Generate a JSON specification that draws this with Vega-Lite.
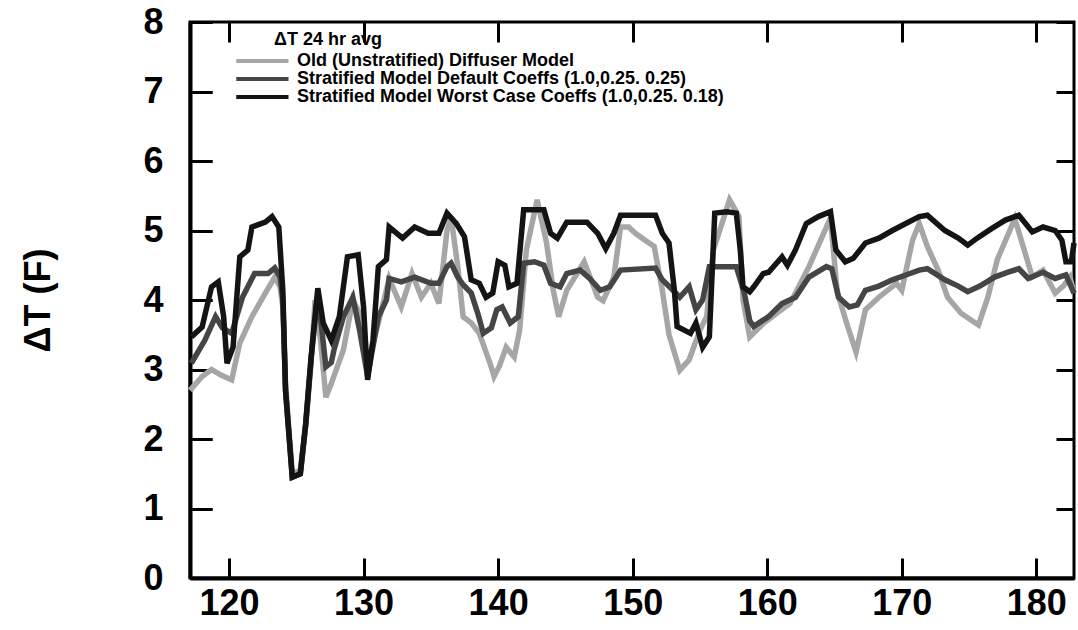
{
  "$schema": "https://vega.github.io/schema/vega-lite/v6.json",
  "autosize": {"type": "none"},
  "padding": {"left": 190, "top": 22, "right": 4, "bottom": 52},
  "width": 884,
  "height": 556,
  "background": "white",
  "config": {
    "view": {"stroke": "black", "strokeWidth": 3}
  },
  "data": {"values": [
    {"s":"O","x":117.1,"y":2.7},{"s":"O","x":118.0,"y":2.9},{"s":"O","x":118.7,"y":3.0},{"s":"O","x":119.4,"y":2.92},{"s":"O","x":120.2,"y":2.85},{"s":"O","x":120.8,"y":3.38},{"s":"O","x":121.7,"y":3.76},{"s":"O","x":122.7,"y":4.1},{"s":"O","x":123.4,"y":4.33},{"s":"O","x":123.8,"y":4.19},{"s":"O","x":124.0,"y":3.9},{"s":"O","x":124.2,"y":2.8},{"s":"O","x":124.7,"y":1.5},{"s":"O","x":125.3,"y":1.55},{"s":"O","x":125.7,"y":2.2},{"s":"O","x":126.1,"y":3.1},{"s":"O","x":126.4,"y":4.0},{"s":"O","x":126.8,"y":3.42},{"s":"O","x":127.2,"y":2.6},{"s":"O","x":127.6,"y":2.8},{"s":"O","x":128.5,"y":3.28},{"s":"O","x":129.2,"y":4.0},{"s":"O","x":129.6,"y":3.85},{"s":"O","x":130.3,"y":3.1},{"s":"O","x":131.1,"y":3.67},{"s":"O","x":131.9,"y":4.31},{"s":"O","x":132.8,"y":3.9},{"s":"O","x":133.6,"y":4.38},{"s":"O","x":134.3,"y":4.04},{"s":"O","x":135.0,"y":4.24},{"s":"O","x":135.6,"y":3.95},{"s":"O","x":136.2,"y":5.0},{"s":"O","x":136.5,"y":5.2},{"s":"O","x":137.0,"y":4.48},{"s":"O","x":137.4,"y":3.76},{"s":"O","x":138.0,"y":3.67},{"s":"O","x":138.6,"y":3.52},{"s":"O","x":139.4,"y":3.09},{"s":"O","x":139.7,"y":2.9},{"s":"O","x":140.1,"y":3.05},{"s":"O","x":140.6,"y":3.32},{"s":"O","x":141.2,"y":3.18},{"s":"O","x":141.6,"y":3.57},{"s":"O","x":142.1,"y":4.72},{"s":"O","x":142.9,"y":5.44},{"s":"O","x":143.6,"y":4.82},{"s":"O","x":144.1,"y":4.14},{"s":"O","x":144.5,"y":3.76},{"s":"O","x":145.1,"y":4.14},{"s":"O","x":146.4,"y":4.55},{"s":"O","x":147.4,"y":4.04},{"s":"O","x":147.8,"y":3.99},{"s":"O","x":148.6,"y":4.33},{"s":"O","x":149.1,"y":5.05},{"s":"O","x":149.7,"y":5.05},{"s":"O","x":150.2,"y":4.96},{"s":"O","x":151.0,"y":4.85},{"s":"O","x":151.6,"y":4.77},{"s":"O","x":152.2,"y":4.14},{"s":"O","x":152.7,"y":3.5},{"s":"O","x":153.5,"y":2.99},{"s":"O","x":154.2,"y":3.14},{"s":"O","x":155.0,"y":3.57},{"s":"O","x":155.5,"y":3.76},{"s":"O","x":156.0,"y":4.72},{"s":"O","x":157.2,"y":5.44},{"s":"O","x":157.9,"y":5.2},{"s":"O","x":158.2,"y":4.0},{"s":"O","x":158.7,"y":3.47},{"s":"O","x":159.7,"y":3.66},{"s":"O","x":160.7,"y":3.81},{"s":"O","x":161.7,"y":3.95},{"s":"O","x":162.1,"y":4.1},{"s":"O","x":163.1,"y":4.48},{"s":"O","x":164.4,"y":5.05},{"s":"O","x":164.7,"y":5.18},{"s":"O","x":165.2,"y":4.12},{"s":"O","x":165.9,"y":3.67},{"s":"O","x":166.6,"y":3.25},{"s":"O","x":167.3,"y":3.86},{"s":"O","x":168.3,"y":4.04},{"s":"O","x":169.6,"y":4.24},{"s":"O","x":170.0,"y":4.14},{"s":"O","x":170.8,"y":4.86},{"s":"O","x":171.3,"y":5.1},{"s":"O","x":171.9,"y":4.77},{"s":"O","x":172.7,"y":4.43},{"s":"O","x":173.4,"y":4.04},{"s":"O","x":174.4,"y":3.81},{"s":"O","x":175.7,"y":3.64},{"s":"O","x":176.4,"y":4.04},{"s":"O","x":177.1,"y":4.58},{"s":"O","x":178.4,"y":5.17},{"s":"O","x":179.1,"y":4.72},{"s":"O","x":179.7,"y":4.33},{"s":"O","x":180.5,"y":4.43},{"s":"O","x":181.4,"y":4.1},{"s":"O","x":182.0,"y":4.2},{"s":"O","x":182.5,"y":4.33},{"s":"O","x":182.8,"y":4.1},
    {"s":"D","x":117.2,"y":3.09},{"s":"D","x":118.2,"y":3.42},{"s":"D","x":119.0,"y":3.76},{"s":"D","x":119.5,"y":3.6},{"s":"D","x":120.2,"y":3.52},{"s":"D","x":121.0,"y":4.04},{"s":"D","x":121.9,"y":4.38},{"s":"D","x":122.9,"y":4.38},{"s":"D","x":123.4,"y":4.46},{"s":"D","x":123.8,"y":4.33},{"s":"D","x":124.0,"y":4.0},{"s":"D","x":124.2,"y":2.7},{"s":"D","x":124.7,"y":1.45},{"s":"D","x":125.3,"y":1.5},{"s":"D","x":125.7,"y":2.2},{"s":"D","x":126.1,"y":3.15},{"s":"D","x":126.6,"y":4.1},{"s":"D","x":127.2,"y":3.04},{"s":"D","x":127.6,"y":3.1},{"s":"D","x":127.8,"y":3.28},{"s":"D","x":128.5,"y":3.76},{"s":"D","x":129.2,"y":4.04},{"s":"D","x":129.7,"y":3.57},{"s":"D","x":130.3,"y":2.9},{"s":"D","x":131.1,"y":3.76},{"s":"D","x":131.7,"y":4.0},{"s":"D","x":131.9,"y":4.31},{"s":"D","x":132.8,"y":4.26},{"s":"D","x":133.8,"y":4.33},{"s":"D","x":135.0,"y":4.24},{"s":"D","x":135.6,"y":4.24},{"s":"D","x":136.2,"y":4.48},{"s":"D","x":136.5,"y":4.53},{"s":"D","x":137.0,"y":4.33},{"s":"D","x":137.4,"y":4.22},{"s":"D","x":138.0,"y":4.1},{"s":"D","x":138.5,"y":3.8},{"s":"D","x":138.9,"y":3.52},{"s":"D","x":139.5,"y":3.6},{"s":"D","x":139.9,"y":3.86},{"s":"D","x":140.3,"y":3.9},{"s":"D","x":140.9,"y":3.67},{"s":"D","x":141.5,"y":3.76},{"s":"D","x":141.9,"y":4.53},{"s":"D","x":142.7,"y":4.55},{"s":"D","x":143.4,"y":4.5},{"s":"D","x":143.9,"y":4.24},{"s":"D","x":144.6,"y":4.19},{"s":"D","x":145.1,"y":4.38},{"s":"D","x":146.1,"y":4.43},{"s":"D","x":146.8,"y":4.31},{"s":"D","x":147.6,"y":4.14},{"s":"D","x":148.3,"y":4.19},{"s":"D","x":149.1,"y":4.43},{"s":"D","x":151.7,"y":4.46},{"s":"D","x":152.2,"y":4.29},{"s":"D","x":153.0,"y":4.14},{"s":"D","x":153.5,"y":4.04},{"s":"D","x":154.2,"y":4.19},{"s":"D","x":154.7,"y":3.86},{"s":"D","x":155.2,"y":4.0},{"s":"D","x":155.7,"y":4.48},{"s":"D","x":157.7,"y":4.48},{"s":"D","x":158.3,"y":4.1},{"s":"D","x":158.7,"y":3.7},{"s":"D","x":159.0,"y":3.62},{"s":"D","x":159.7,"y":3.71},{"s":"D","x":160.1,"y":3.76},{"s":"D","x":161.1,"y":3.95},{"s":"D","x":162.1,"y":4.04},{"s":"D","x":163.1,"y":4.33},{"s":"D","x":164.4,"y":4.48},{"s":"D","x":164.8,"y":4.45},{"s":"D","x":165.3,"y":4.04},{"s":"D","x":166.1,"y":3.9},{"s":"D","x":166.7,"y":3.93},{"s":"D","x":167.3,"y":4.14},{"s":"D","x":168.3,"y":4.2},{"s":"D","x":169.3,"y":4.29},{"s":"D","x":170.3,"y":4.36},{"s":"D","x":171.3,"y":4.43},{"s":"D","x":171.9,"y":4.45},{"s":"D","x":173.2,"y":4.29},{"s":"D","x":174.2,"y":4.2},{"s":"D","x":174.9,"y":4.12},{"s":"D","x":175.8,"y":4.2},{"s":"D","x":176.9,"y":4.33},{"s":"D","x":177.9,"y":4.4},{"s":"D","x":178.7,"y":4.45},{"s":"D","x":179.4,"y":4.31},{"s":"D","x":180.5,"y":4.4},{"s":"D","x":181.4,"y":4.31},{"s":"D","x":182.2,"y":4.36},{"s":"D","x":182.8,"y":4.1},
    {"s":"W","x":117.2,"y":3.47},{"s":"W","x":118.0,"y":3.61},{"s":"W","x":118.7,"y":4.19},{"s":"W","x":119.2,"y":4.26},{"s":"W","x":119.6,"y":3.76},{"s":"W","x":119.85,"y":3.09},{"s":"W","x":120.3,"y":3.32},{"s":"W","x":120.8,"y":4.62},{"s":"W","x":121.4,"y":4.72},{"s":"W","x":121.7,"y":5.05},{"s":"W","x":122.7,"y":5.12},{"s":"W","x":123.2,"y":5.2},{"s":"W","x":123.7,"y":5.05},{"s":"W","x":124.0,"y":4.14},{"s":"W","x":124.2,"y":2.7},{"s":"W","x":124.7,"y":1.45},{"s":"W","x":125.3,"y":1.5},{"s":"W","x":125.7,"y":2.23},{"s":"W","x":126.1,"y":3.18},{"s":"W","x":126.6,"y":4.17},{"s":"W","x":127.0,"y":3.67},{"s":"W","x":127.6,"y":3.42},{"s":"W","x":128.2,"y":3.76},{"s":"W","x":128.8,"y":4.62},{"s":"W","x":129.6,"y":4.65},{"s":"W","x":130.0,"y":3.9},{"s":"W","x":130.3,"y":2.85},{"s":"W","x":130.7,"y":3.42},{"s":"W","x":131.1,"y":4.48},{"s":"W","x":131.7,"y":4.58},{"s":"W","x":131.9,"y":5.05},{"s":"W","x":132.9,"y":4.89},{"s":"W","x":133.8,"y":5.05},{"s":"W","x":134.8,"y":4.96},{"s":"W","x":135.6,"y":4.96},{"s":"W","x":136.2,"y":5.25},{"s":"W","x":136.9,"y":5.1},{"s":"W","x":137.5,"y":4.91},{"s":"W","x":138.0,"y":4.29},{"s":"W","x":138.6,"y":4.24},{"s":"W","x":139.1,"y":4.04},{"s":"W","x":139.6,"y":4.1},{"s":"W","x":140.0,"y":4.55},{"s":"W","x":140.5,"y":4.5},{"s":"W","x":140.8,"y":4.19},{"s":"W","x":141.4,"y":4.24},{"s":"W","x":141.9,"y":5.3},{"s":"W","x":143.4,"y":5.3},{"s":"W","x":143.9,"y":4.96},{"s":"W","x":144.4,"y":4.89},{"s":"W","x":145.1,"y":5.12},{"s":"W","x":146.6,"y":5.12},{"s":"W","x":147.4,"y":4.96},{"s":"W","x":148.0,"y":4.74},{"s":"W","x":148.6,"y":4.96},{"s":"W","x":149.1,"y":5.22},{"s":"W","x":151.7,"y":5.22},{"s":"W","x":152.2,"y":4.96},{"s":"W","x":152.7,"y":4.82},{"s":"W","x":153.1,"y":4.14},{"s":"W","x":153.3,"y":3.62},{"s":"W","x":154.3,"y":3.52},{"s":"W","x":154.7,"y":3.67},{"s":"W","x":155.2,"y":3.32},{"s":"W","x":155.7,"y":3.47},{"s":"W","x":156.1,"y":5.25},{"s":"W","x":157.0,"y":5.27},{"s":"W","x":157.7,"y":5.25},{"s":"W","x":158.0,"y":4.72},{"s":"W","x":158.2,"y":4.19},{"s":"W","x":158.7,"y":4.12},{"s":"W","x":159.0,"y":4.19},{"s":"W","x":159.7,"y":4.38},{"s":"W","x":160.1,"y":4.4},{"s":"W","x":161.1,"y":4.62},{"s":"W","x":161.5,"y":4.5},{"s":"W","x":162.1,"y":4.72},{"s":"W","x":162.9,"y":5.1},{"s":"W","x":163.8,"y":5.2},{"s":"W","x":164.7,"y":5.27},{"s":"W","x":165.1,"y":4.72},{"s":"W","x":165.8,"y":4.55},{"s":"W","x":166.4,"y":4.6},{"s":"W","x":167.3,"y":4.82},{"s":"W","x":168.3,"y":4.89},{"s":"W","x":169.3,"y":5.0},{"s":"W","x":170.3,"y":5.1},{"s":"W","x":171.3,"y":5.2},{"s":"W","x":171.9,"y":5.22},{"s":"W","x":173.2,"y":5.0},{"s":"W","x":174.2,"y":4.89},{"s":"W","x":174.9,"y":4.79},{"s":"W","x":175.6,"y":4.89},{"s":"W","x":176.7,"y":5.03},{"s":"W","x":177.7,"y":5.15},{"s":"W","x":178.7,"y":5.22},{"s":"W","x":179.2,"y":5.1},{"s":"W","x":179.7,"y":4.98},{"s":"W","x":180.5,"y":5.05},{"s":"W","x":181.4,"y":5.0},{"s":"W","x":181.9,"y":4.86},{"s":"W","x":182.2,"y":4.55},{"s":"W","x":182.6,"y":4.55},{"s":"W","x":182.8,"y":4.82}
  ]},
  "mark": {"type": "line", "strokeWidth": 5.5},
  "encoding": {
    "x": {"field": "x", "type": "quantitative", "scale": {"domain": [117.1, 182.8], "nice": false, "zero": false},
      "axis": {"values": [120,130,140,150,160,170,180], "title": null,
        "grid": true, "gridColor": "black", "gridOpacity": 1, "gridWidth": 3, "gridDash": [20, 525, 11, 1000],
        "labelFont": "Liberation Sans", "labelFontSize": 36, "labelFontWeight": "bold", "labelColor": "black",
        "labelFlush": false, "labelPadding": 28,
        "domainColor": "black", "domainWidth": 4, "tickColor": "black", "tickWidth": 3, "tickSize": -20}},
    "y": {"field": "y", "type": "quantitative", "scale": {"domain": [0, 8], "nice": false},
      "axis": {"values": [0,1,2,3,4,5,6,7,8], "title": "ΔT (F)",
        "grid": true, "gridColor": "black", "gridOpacity": 1, "gridWidth": 3, "gridDash": [22, 844, 18, 1000],
        "titleFont": "Liberation Sans", "titleFontSize": 36, "titleFontWeight": "bold", "titleColor": "black", "titlePadding": 85,
        "labelFont": "Liberation Sans", "labelFontSize": 36, "labelFontWeight": "bold", "labelColor": "black",
        "labelFlush": false, "labelPadding": 49,
        "domainColor": "black", "domainWidth": 4, "tickColor": "black", "tickWidth": 3, "tickSize": -22}},
    "color": {"field": "s", "type": "nominal",
      "scale": {"domain": ["O","D","W"], "range": ["#a6a6a6","#454545","#141414"]},
      "legend": {"orient": "none", "legendX": 84, "legendY": 9, "padding": 0,
        "title": "ΔT 24 hr avg", "titleFont": "Liberation Sans", "titleFontSize": 18, "titleFontWeight": "bold", "titleColor": "black", "titlePadding": 3,
        "labelFont": "Liberation Sans", "labelFontSize": 18, "labelFontWeight": "bold", "labelColor": "black", "labelOffset": 5,
        "symbolType": "M-8.5,0H1", "symbolSize": 121, "symbolStrokeWidth": 4, "rowPadding": 0,
        "labelLimit": 600,
        "labelExpr": "datum.label == 'O' ? 'Old (Unstratified) Diffuser Model' : datum.label == 'D' ? 'Stratified Model Default Coeffs (1.0,0.25. 0.25)' : 'Stratified Model Worst Case Coeffs (1.0,0.25. 0.18)'"}}
  }
}
